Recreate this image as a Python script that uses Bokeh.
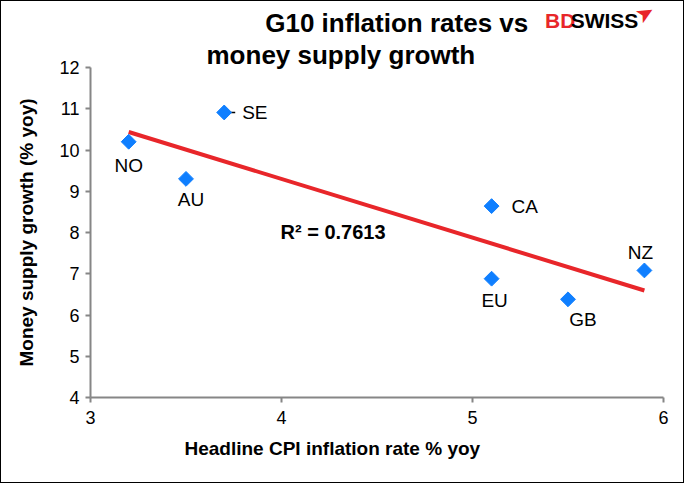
import numpy as np
from bokeh.plotting import figure
from bokeh.layouts import column
from bokeh.models import ColumnDataSource, Label, FixedTicker, Range1d, Title
from bokeh.core.properties import value
from bokeh.embed import file_html
from bokeh.resources import INLINE

# ---- data ----
countries = ["NO", "SE", "AU", "CA", "EU", "GB", "NZ"]
cpi = [3.2, 3.7, 3.5, 5.1, 5.1, 5.5, 5.9]
money = [10.2, 10.91, 9.3, 8.64, 6.88, 6.38, 7.08]
x_ticks = [3, 4, 5, 6]
y_ticks = [4, 5, 6, 7, 8, 9, 10, 11, 12]
r2_text = "R\u00b2 = 0.7613"
title_1 = "G10 inflation rates vs"
title_2 = "money supply growth"
x_title = "Headline CPI inflation rate % yoy"
y_title = "Money supply growth (% yoy)"
logo_parts = ["BD", "SWISS"]

# label placement (screen pixels, styles only)
lab_dx = {"NO": 0, "SE": 18, "AU": 5, "CA": 20, "EU": 3, "GB": 15, "NZ": -4}
lab_dy = {"NO": 24, "SE": 0, "AU": 21, "CA": 0, "EU": 22, "GB": 20, "NZ": -18}
lab_align = {"NO": "center", "SE": "left", "AU": "center", "CA": "left",
             "EU": "center", "GB": "center", "NZ": "center"}

FONT = "Liberation Sans"
BLUE = "#0F7FFF"
RED = "#E8262A"
AXIS_GRAY = "#868686"
W = 682
TOP_H = 38

# ---- header strip: first title line and logo (pixel-like ranges, y downward) ----
head = figure(width=W, height=TOP_H, output_backend="svg", toolbar_location=None,
              x_range=Range1d(0, W), y_range=Range1d(TOP_H, 0),
              x_axis_type=None, y_axis_type=None, min_border=0, title=None)
head.outline_line_color = None
head.grid.visible = False
head.background_fill_color = "white"
head.border_fill_color = "white"
head.text(x=[208], y=[21], text=[title_1], text_align="left", text_baseline="alphabetic",
          text_font=value(FONT), text_font_size="26px", text_font_style="bold",
          text_color="black")
head.text(x=[541, 571.5], y=[19, 19], text=logo_parts, text_align="left",
          text_baseline="alphabetic", text_font=value(FONT), text_font_size="21px",
          text_font_style="bold", text_color=[RED, "black"])
head.text(x=[660], y=[12], text=["\u27a4"], text_align="center", text_baseline="middle",
          text_font=value("DejaVu Sans"), text_font_size="22px", angle=np.pi / 6,
          text_color=RED)

# ---- main chart ----
p = figure(width=W, height=481 - TOP_H, output_backend="svg", toolbar_location=None,
           x_range=Range1d(3, 6), y_range=Range1d(4, 12),
           min_border_left=89, min_border_right=20, min_border_top=25, min_border_bottom=85)
p.outline_line_color = None
p.grid.visible = False
p.background_fill_color = "white"
p.border_fill_color = "white"

p.title.text = title_2
p.title.text_font = FONT
p.title.text_font_size = "26px"
p.title.text_font_style = "bold"
p.title.text_color = "black"
p.title.align = "left"
p.title.offset = 116
p.title.standoff = -4

for ax in (p.xaxis[0], p.yaxis[0]):
    ax.axis_line_color = AXIS_GRAY
    ax.axis_line_width = 2
    ax.major_tick_line_color = AXIS_GRAY
    ax.major_tick_line_width = 2
    ax.major_tick_out = 5
    ax.major_tick_in = 0
    ax.minor_tick_line_color = None
    ax.major_label_text_font = FONT
    ax.major_label_text_font_size = "18px"
    ax.major_label_text_color = "black"
p.xaxis.ticker = FixedTicker(ticks=x_ticks)
p.yaxis.ticker = FixedTicker(ticks=y_ticks)
p.xaxis.major_label_standoff = 8
p.yaxis.major_label_standoff = 6

p.yaxis.axis_label = y_title
p.yaxis.axis_label_text_font = FONT
p.yaxis.axis_label_text_font_size = "19px"
p.yaxis.axis_label_text_font_style = "bold"
p.yaxis.axis_label_text_color = "black"
p.yaxis.axis_label_standoff = 19

xt = Title(text=x_title, text_font=FONT, text_font_size="19px", text_font_style="bold",
           text_color="black", align="left", offset=94, standoff=18)
p.add_layout(xt, "below")

# trendline (least squares fit of the data)
xs = np.array(cpi)
ys = np.array(money)
slope, intercept = np.polyfit(xs, ys, 1)
tx = [xs.min(), xs.max()]
ty = [slope * v + intercept for v in tx]
p.line(tx, ty, line_color=RED, line_width=4)

src = ColumnDataSource(dict(
    x=cpi, y=money, name=countries,
    dx=[lab_dx[c] for c in countries],
    dy=[lab_dy[c] for c in countries],
    al=[lab_align[c] for c in countries],
))

# leader line for SE
se = countries.index("SE")
p.ray(x=[cpi[se]], y=[money[se]], length=11, length_units="screen", angle=0,
      line_color="black", line_width=1.5)

p.scatter("x", "y", source=src, marker="square", size=10.5, angle=np.pi / 4,
          fill_color=BLUE, line_color=BLUE)

p.text("x", "y", text="name", source=src, x_offset="dx", y_offset="dy",
       text_align="al", text_baseline="middle", text_font_size="19px",
       text_font=value(FONT), text_color="black")

p.add_layout(Label(x=190, y=166, x_units="screen", y_units="screen", text=r2_text,
                   text_font=FONT, text_font_size="20px", text_font_style="bold",
                   text_align="left", text_baseline="middle", text_color="black"))

layout = column(head, p, spacing=0, styles={"border": "1px solid black",
                                             "background-color": "white"})

open("out.html", "w").write(file_html(layout, INLINE))
